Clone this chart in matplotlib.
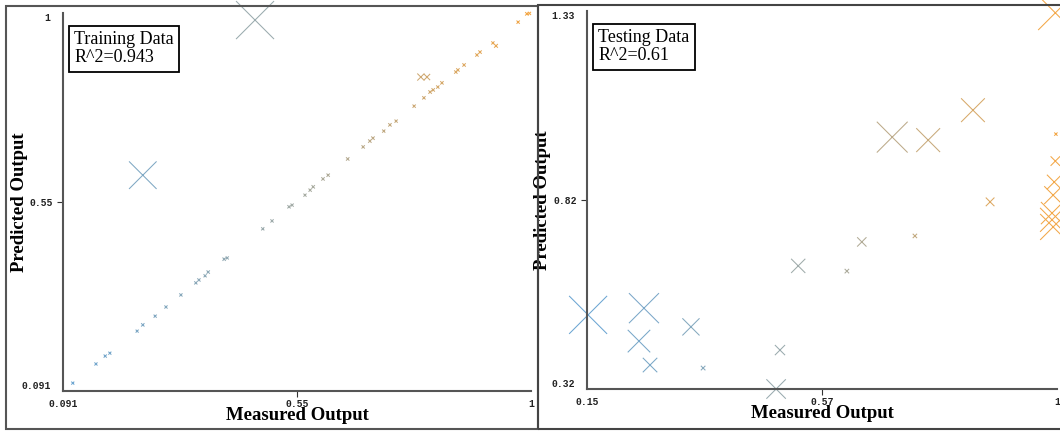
import numpy as np
import matplotlib
matplotlib.use('Agg')
import matplotlib.pyplot as plt
from matplotlib.colors import LinearSegmentedColormap
from matplotlib.patches import Rectangle
from matplotlib.font_manager import FontProperties

# training set: measured vs predicted output
train_measured = [0.110, 0.155, 0.173, 0.182, 0.235, 0.246, 0.270, 0.291, 0.320, 0.349,
                  0.355, 0.367, 0.373, 0.404, 0.410, 0.479, 0.497, 0.530, 0.536, 0.561,
                  0.571, 0.577, 0.596, 0.606, 0.644, 0.674, 0.687, 0.693, 0.714, 0.726,
                  0.738, 0.773, 0.792, 0.804, 0.810, 0.819, 0.827, 0.854, 0.858, 0.870,
                  0.895, 0.901, 0.926, 0.932, 0.975, 0.992, 0.997,
                  0.786, 0.798, 0.246, 0.464]
train_predicted = [0.110, 0.156, 0.175, 0.182, 0.235, 0.250, 0.271, 0.293, 0.322, 0.351,
                   0.358, 0.368, 0.377, 0.408, 0.411, 0.481, 0.500, 0.534, 0.538, 0.562,
                   0.574, 0.582, 0.601, 0.610, 0.649, 0.678, 0.692, 0.699, 0.716, 0.731,
                   0.740, 0.776, 0.796, 0.810, 0.815, 0.822, 0.832, 0.858, 0.863, 0.875,
                   0.899, 0.906, 0.928, 0.921, 0.978, 0.998, 0.999,
                   0.846, 0.846, 0.610, 0.983]

# testing set
test_measured = [0.152, 0.253, 0.244, 0.264, 0.338, 0.360, 0.499, 0.492, 0.532, 0.647,
                 0.620, 0.743, 0.702, 0.767, 0.848, 0.879, 0.997, 0.998, 0.997, 0.995,
                 0.993, 0.991, 0.991, 0.993]
test_predicted = [0.518, 0.536, 0.448, 0.384, 0.486, 0.376, 0.424, 0.320, 0.649, 0.713,
                  0.635, 0.729, 0.993, 0.985, 1.065, 0.820, 1.325, 1.001, 0.929, 0.873,
                  0.838, 0.790, 0.772, 0.753]

train_xlim = (0.091, 1.0)
train_ylim = (0.091, 1.0)
train_xticklabels = ['0.091', '0.55', '1']
train_yticklabels = ['0.091', '0.55', '1']
test_xlim = (0.15, 1.0)
test_ylim = (0.32, 1.33)
test_xticklabels = ['0.15', '0.57', '1']
test_yticklabels = ['0.32', '0.82', '1.33']

cmap = LinearSegmentedColormap.from_list('bgo', ['#6ca6d3', '#a4aca6', '#f3a747'])

W, H = 1060., 432.
SERIF = 'Liberation Serif'
MONO = 'Liberation Mono'
label_font = FontProperties(family=SERIF, weight='bold', size=13.5)


def panel(fig, rect, measured, predicted, xlim, ylim, xlabels, ylabels, title, ylab_x):
    ax = fig.add_axes(rect)
    measured = np.array(measured)
    predicted = np.array(predicted)

    # marker width grows with the absolute error
    err = np.abs(predicted - measured)
    size_px = 3 + 35 * err / err.max()
    ax.scatter(measured, predicted, s=(size_px * 0.72)**2, c=measured, cmap=cmap,
               vmin=xlim[0], vmax=xlim[1], marker='x', linewidths=0.75, clip_on=False)

    ax.set_xlim(xlim)
    ax.set_ylim(ylim)
    for s in ['top', 'right']:
        ax.spines[s].set_visible(False)
    for s in ['left', 'bottom']:
        ax.spines[s].set_color('#555555')
        ax.spines[s].set_linewidth(1.5)

    # ticks at min / mid / max, only the mid one has a tick mark
    xmid = 0.5 * (xlim[0] + xlim[1])
    ymid = 0.5 * (ylim[0] + ylim[1])
    ax.set_xticks([xlim[0], xlim[1]], labels=[xlabels[0], xlabels[2]])
    ax.set_xticks([xmid], labels=[xlabels[1]], minor=True)
    ax.set_yticks([ylim[0], ylim[1]], labels=[ylabels[0], ylabels[2]])
    ax.set_yticks([ymid], labels=[ylabels[1]], minor=True)
    ax.tick_params(which='major', length=0, pad=6)
    ax.tick_params(which='minor', length=4, width=0.8, color='#333333', pad=3)
    ax.tick_params(axis='x', which='minor', pad=1.5)
    ax.tick_params(axis='y', which='major', pad=9)
    for lab in ax.get_xticklabels(which='both') + ax.get_yticklabels(which='both'):
        lab.set_fontfamily(MONO)
        lab.set_fontweight('bold')
        lab.set_fontsize(7)
        lab.set_color('#222222')
    ylabs = ax.get_yticklabels()
    ylabs[0].set_va('bottom')
    ylabs[1].set_va('top')

    ax.set_xlabel('Measured Output', fontproperties=label_font, labelpad=-2)
    ax.set_ylabel('Predicted Output', fontproperties=label_font)
    ax.yaxis.set_label_coords(ylab_x, 0.5)

    ax.text(0.024, 0.952, title, transform=ax.transAxes, va='top', ha='left',
            fontfamily=SERIF, fontsize=13, linespacing=1.1,
            bbox=dict(boxstyle='square,pad=0.3', fc='white', ec='black', lw=1.3))
    return ax


def visualization():
    fig = plt.figure(figsize=(W / 100., H / 100.), dpi=100)

    # outer frames around the two panels
    fig.patches.append(Rectangle((6 / W, 3 / H), 532 / W, 423 / H, transform=fig.transFigure,
                                 fill=False, ec='#555555', lw=1.5))
    fig.patches.append(Rectangle((538 / W, 3 / H), 530 / W, 424 / H, transform=fig.transFigure,
                                 fill=False, ec='#444444', lw=1.5))

    panel(fig, [63 / W, (H - 391) / H, 468 / W, 378 / H], train_measured, train_predicted,
          train_xlim, train_ylim, train_xticklabels, train_yticklabels,
          'Training Data\nR^2=0.943', -0.075)
    panel(fig, [587 / W, (H - 389) / H, 470 / W, 378 / H], test_measured, test_predicted,
          test_xlim, test_ylim, test_xticklabels, test_yticklabels,
          'Testing Data\nR^2=0.61', -0.076)

    plt.savefig('out.png', dpi=100)


if __name__ == '__main__':
    visualization()
